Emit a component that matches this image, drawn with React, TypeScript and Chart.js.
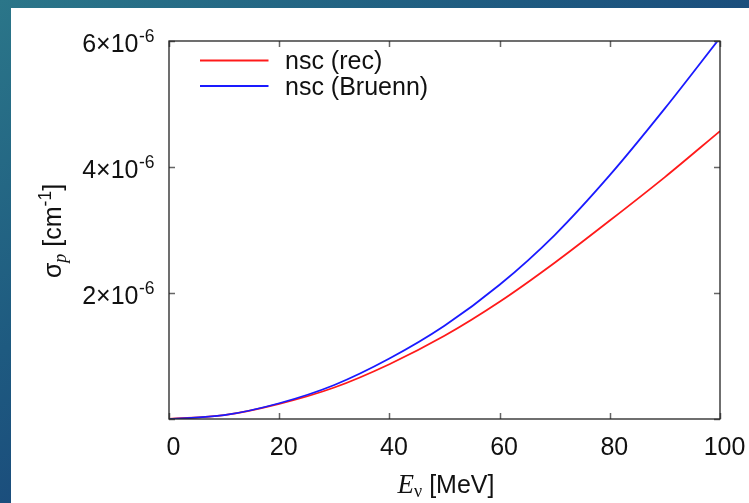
import React, { useEffect, useRef } from "react";
import { Chart, registerables } from "chart.js";

Chart.register(...registerables);

// ---- data ----
const energies = [0, 10, 20, 30, 40, 50, 60, 70, 80, 90, 100];
const nscRec = [0, 0.06e-6, 0.24e-6, 0.5e-6, 0.87e-6, 1.32e-6, 1.86e-6, 2.48e-6, 3.15e-6, 3.84e-6, 4.57e-6];
const nscBruenn = [0, 0.06e-6, 0.25e-6, 0.54e-6, 0.96e-6, 1.48e-6, 2.13e-6, 2.92e-6, 3.87e-6, 4.93e-6, 6.05e-6];

const seriesNames = ["nsc (rec)", "nsc (Bruenn)"];
const seriesColors = ["#ff1a1a", "#1a1aff"];

const xTickValues = [0, 20, 40, 60, 80, 100];
const xTickLabels = ["0", "20", "40", "60", "80", "100"];
const yTickMarks = [0, 2e-6, 4e-6, 6e-6];
const yLabelValues = [2e-6, 4e-6, 6e-6];
const yLabelMantissas = ["2×10", "4×10", "6×10"];
const yLabelExponent = "-6";

const SANS = "'Liberation Sans', Arial, Helvetica, sans-serif";
const SERIF = "'Liberation Serif', 'Times New Roman', serif";
const FS = 25;

const decorPlugin = {
  id: "decor",
  afterDraw(chart: any) {
    const ctx: CanvasRenderingContext2D = chart.ctx;
    const { left, right, top, bottom } = chart.chartArea;
    const xs = chart.scales.x;
    const ys = chart.scales.y;
    ctx.save();

    // tick marks (inward, mirrored)
    ctx.strokeStyle = "#666";
    ctx.lineWidth = 1.5;
    const tl = 6;
    ctx.beginPath();
    xTickValues.forEach((v) => {
      const px = Math.round(xs.getPixelForValue(v)) + 0.5;
      ctx.moveTo(px, bottom);
      ctx.lineTo(px, bottom - tl);
      ctx.moveTo(px, top);
      ctx.lineTo(px, top + tl);
    });
    yTickMarks.forEach((v) => {
      const py = Math.round(ys.getPixelForValue(v)) + 0.5;
      ctx.moveTo(left, py);
      ctx.lineTo(left + tl, py);
      ctx.moveTo(right, py);
      ctx.lineTo(right - tl, py);
    });
    ctx.stroke();

    // frame
    ctx.strokeStyle = "#222";
    ctx.lineWidth = 1.3;
    ctx.strokeRect(left, top, right - left, bottom - top);

    ctx.fillStyle = "#111";
    ctx.textBaseline = "alphabetic";

    // x tick labels
    ctx.font = `${FS}px ${SANS}`;
    ctx.textAlign = "center";
    xTickValues.forEach((v, i) => {
      const px = xs.getPixelForValue(v);
      ctx.fillText(xTickLabels[i], px + 4.5, bottom + 36);
    });

    // y tick labels with superscript exponent
    yLabelValues.forEach((v, i) => {
      const py = ys.getPixelForValue(v);
      const xr = left - 15;
      ctx.textAlign = "left";
      ctx.font = `17.5px ${SANS}`;
      const we = ctx.measureText(yLabelExponent).width;
      ctx.font = `${FS}px ${SANS}`;
      const wm = ctx.measureText(yLabelMantissas[i]).width;
      const x0 = xr - we - wm;
      ctx.fillText(yLabelMantissas[i], x0, py + 11);
      ctx.font = `17.5px ${SANS}`;
      ctx.fillText(yLabelExponent, x0 + wm + 0.5, py + 0.5);
    });

    // legend
    const legX0 = left + 31;
    const legX1 = left + 99.5;
    const legTextX = left + 116;
    const legY = [top + 19.5, top + 45];
    ctx.lineWidth = 1.8;
    seriesNames.forEach((name, i) => {
      ctx.strokeStyle = seriesColors[i];
      ctx.beginPath();
      ctx.moveTo(legX0, legY[i]);
      ctx.lineTo(legX1, legY[i]);
      ctx.stroke();
      ctx.fillStyle = "#111";
      ctx.textAlign = "left";
      ctx.font = `${FS}px ${SANS}`;
      ctx.fillText(name, legTextX, legY[i] + 8.5);
    });

    // x axis title: E_ν [MeV]
    {
      const parts = [
        { t: "E", f: `italic 27px ${SERIF}`, dy: 0 },
        { t: "ν", f: `18px ${SERIF}`, dy: 4 },
        { t: " [MeV]", f: `${FS}px ${SANS}`, dy: 0 },
      ];
      let total = 0;
      const widths = parts.map((p) => {
        ctx.font = p.f;
        const w = ctx.measureText(p.t).width;
        total += w;
        return w;
      });
      let x = (left + right) / 2 + 1.5 - total / 2;
      const base = bottom + 74;
      ctx.textAlign = "left";
      parts.forEach((p, i) => {
        ctx.font = p.f;
        ctx.fillText(p.t, x, base + p.dy);
        x += widths[i];
      });
    }

    // y axis title: σ_p [cm^-1]
    {
      const parts = [
        { t: "σ", f: `${FS}px ${SANS}`, dy: 0 },
        { t: "p", f: `italic 18px ${SERIF}`, dy: 5 },
        { t: " [cm", f: `${FS}px ${SANS}`, dy: 0 },
        { t: "-1", f: `17.5px ${SANS}`, dy: -10 },
        { t: "]", f: `${FS}px ${SANS}`, dy: 0 },
      ];
      let total = 0;
      const widths = parts.map((p) => {
        ctx.font = p.f;
        const w = ctx.measureText(p.t).width;
        total += w;
        return w;
      });
      ctx.save();
      ctx.translate(49.7, (top + bottom) / 2 + 1);
      ctx.rotate(-Math.PI / 2);
      ctx.textAlign = "left";
      let x = -total / 2;
      parts.forEach((p, i) => {
        ctx.font = p.f;
        ctx.fillText(p.t, x, p.dy);
        x += widths[i];
      });
      ctx.restore();
    }

    ctx.restore();
  },
};

export default function App() {
  const canvasRef = useRef<HTMLCanvasElement | null>(null);

  useEffect(() => {
    if (!canvasRef.current) return;
    const chart = new Chart(canvasRef.current, {
      type: "line",
      data: {
        datasets: [
          {
            label: seriesNames[0],
            data: energies.map((e, i) => ({ x: e, y: nscRec[i] })),
            borderColor: seriesColors[0],
            borderWidth: 1.8,
            pointRadius: 0,
            fill: false,
            cubicInterpolationMode: "monotone",
            order: 1,
          },
          {
            label: seriesNames[1],
            data: energies.map((e, i) => ({ x: e, y: nscBruenn[i] })),
            borderColor: seriesColors[1],
            borderWidth: 1.8,
            pointRadius: 0,
            fill: false,
            cubicInterpolationMode: "monotone",
            order: 0,
          },
        ],
      },
      options: {
        animation: false,
        responsive: false,
        events: [],
        layout: {
          padding: { left: 158, top: 33, right: 29, bottom: 84 },
          autoPadding: false,
        } as any,
        plugins: {
          legend: { display: false },
          tooltip: { enabled: false },
        },
        scales: {
          x: { type: "linear", min: 0, max: 100, display: false },
          y: { type: "linear", min: 0, max: 6e-6, display: false },
        },
      },
      plugins: [decorPlugin],
    });
    return () => chart.destroy();
  }, []);

  return (
    <div
      style={{
        position: "fixed",
        left: 0,
        top: 0,
        width: 749,
        height: 503,
        overflow: "hidden",
        background: "linear-gradient(to bottom right, #2b7689 0%, #1e5a80 35%, #173f78 70%, #12326c 100%)",
      }}
    >
      <div
        style={{
          position: "absolute",
          left: 11,
          top: 8,
          width: 738,
          height: 495,
          background: "#ffffff",
        }}
      >
        <canvas ref={canvasRef} width={738} height={495} style={{ display: "block" }} />
      </div>
    </div>
  );
}
